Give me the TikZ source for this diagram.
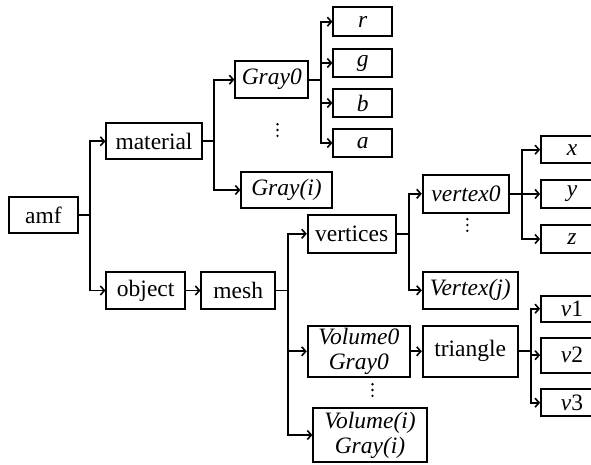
\documentclass[tikz,border=0pt]{standalone}
\usepackage{fontspec}
\setmainfont{Liberation Serif}
\usetikzlibrary{arrows.meta}
\begin{document}
\begin{tikzpicture}[x=1pt,y=-1pt,
  box/.style={draw, line width=1.8pt, inner sep=0pt, align=center,
    font=\fontsize{23.5}{25}\selectfont},
  conn/.style={line width=1.8pt},
  arr/.style={conn, -{Straight Barb[length=4pt,width=9pt,line width=1.6pt]}},
  dotfill/.style={fill=black}]
\useasboundingbox (0,0) rectangle (591,464);
\begin{scope}
\clip (0,0) rectangle (591,464);
% nodes: center position, width, height
\node[box, minimum width=68.4pt, minimum height=36.6pt] (amf) at (43.5,215) {amf};
\node[box, minimum width=95.4pt, minimum height=36pt] (material) at (154,141.3) {material};
\node[box, minimum width=73pt, minimum height=37.3pt] (gray0) at (271.8,79.7) {\itshape Gray0};
\node[box, minimum width=90.4pt, minimum height=36.6pt] (grayi) at (286.5,190) {\itshape Gray(i)};
\node[box, minimum width=59pt, minimum height=28.7pt] (r) at (362.8,21.7) {\itshape r};
\node[box, minimum width=59pt, minimum height=27.7pt] (g) at (362.8,63) {\itshape g};
\node[box, minimum width=59pt, minimum height=27.7pt] (b) at (362.8,103) {\itshape b};
\node[box, minimum width=59pt, minimum height=27.4pt] (a) at (362.8,143) {\itshape a};
\node[box, minimum width=62pt, minimum height=27.3pt] (x) at (572,149.7) {\itshape x};
\node[box, minimum width=62pt, minimum height=28.3pt] (y) at (572,194) {\itshape y};
\node[box, minimum width=62pt, minimum height=28.3pt] (z) at (572,239) {\itshape z};
\node[box, minimum width=86.6pt, minimum height=37.7pt] (vertex0) at (466,193.8) {\itshape vertex0};
\node[box, minimum width=88pt, minimum height=37.7pt] (vertices) at (351.7,233.8) {vertices};
\node[box, minimum width=95pt, minimum height=37.3pt] (vertexj) at (470.2,290.3) {\itshape Vertex(j)};
\node[box, minimum width=78.7pt, minimum height=37.6pt] (object) at (145.7,290.5) {object};
\node[box, minimum width=73.7pt, minimum height=37.6pt] (mesh) at (238.2,290.5) {mesh};
\node[box, minimum width=102.3pt, minimum height=50.7pt] (vol0) at (358.8,351.3) {\itshape Volume0\\\itshape Gray0};
\node[box, minimum width=95pt, minimum height=50.7pt] (triangle) at (470.2,351.3) {triangle};
\node[box, minimum width=113.4pt, minimum height=54.6pt] (voli) at (370,435) {\itshape Volume(i)\\\itshape Gray(i)};
\node[box, minimum width=62pt, minimum height=26pt] (v1) at (572,308.7) {\itshape v\upshape 1};
\node[box, minimum width=62pt, minimum height=35pt] (v2) at (572,355.2) {\itshape v\upshape 2};
\node[box, minimum width=62pt, minimum height=26.7pt] (v3) at (572,402.7) {\itshape v\upshape 3};
% vertical dots
\foreach \cx/\cy in {277.5/130, 467.3/225, 372.5/390} {
  \foreach \dy in {-5.8,0,5.8} {
    \fill[dotfill] (\cx,\cy+\dy) circle (1.3);
  }
}
% connectors
\draw[conn] (amf.east) -- ++(11.6,0) coordinate (t1);
\draw[arr] (t1) |- (material.west);
\draw[arr] (t1) |- (object.west);
\draw[conn] (material.east) -- ++(11.6,0) coordinate (t2);
\draw[arr] (t2) |- (gray0.west);
\draw[arr] (t2) |- (grayi.west);
\draw[conn] (gray0.east) -- ++(11.7,0) coordinate (t3);
\draw[arr] (t3) |- (r.west);
\draw[arr] (t3) |- (g.west);
\draw[arr] (t3) |- (b.west);
\draw[arr] (t3) |- (a.west);
\draw[arr] (object.east) -- (mesh.west);
\draw[conn] (mesh.east) -- ++(11.7,0) coordinate (t4);
\draw[arr] (t4) |- (vertices.west);
\draw[arr] (t4) |- (vol0.west);
\draw[arr] (t4) |- (voli.west);
\draw[conn] (vertices.east) -- ++(12,0) coordinate (t5);
\draw[arr] (t5) |- (vertex0.west);
\draw[arr] (t5) |- (vertexj.west);
\draw[conn] (vertex0.east) -- ++(11.4,0) coordinate (t6);
\draw[arr] (t6) |- (x.west);
\draw[arr] (t6) |- (y.west);
\draw[arr] (t6) |- (z.west);
\draw[arr] (vol0.east) -- (triangle.west);
\draw[conn] (triangle.east) -- ++(12.3,0) coordinate (t7);
\draw[arr] (t7) |- (v1.west);
\draw[arr] (t7) |- (v2.west);
\draw[arr] (t7) |- (v3.west);
\end{scope}
\end{tikzpicture}
\end{document}
